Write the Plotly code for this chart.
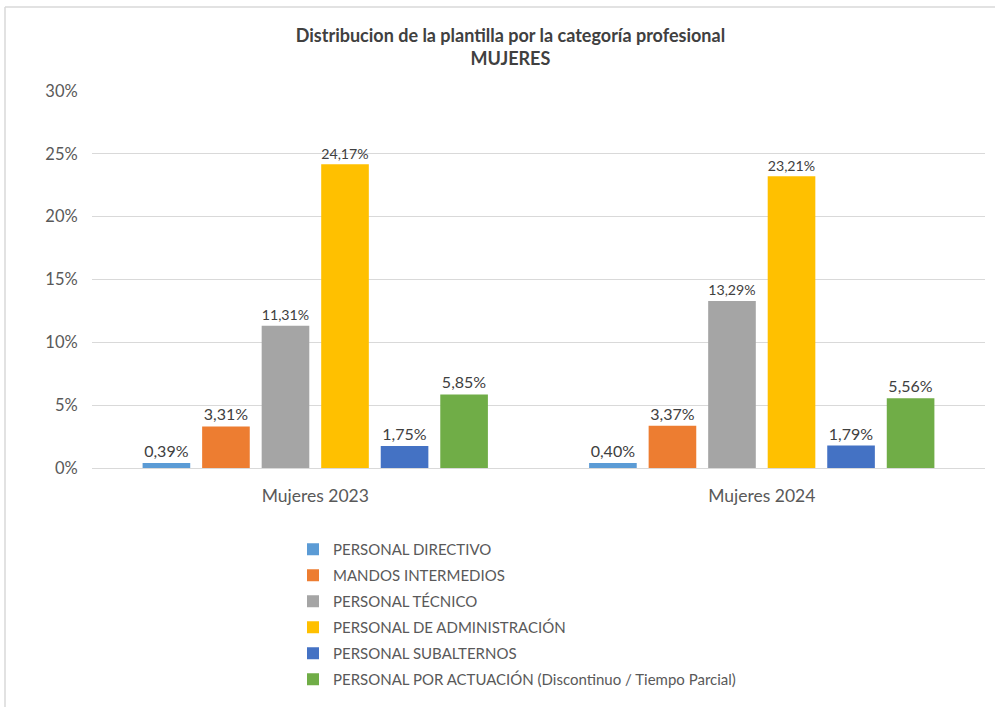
import plotly.graph_objects as go

categories = ["Mujeres 2023", "Mujeres 2024"]
series_names = [
    "PERSONAL DIRECTIVO",
    "MANDOS INTERMEDIOS",
    "PERSONAL TÉCNICO",
    "PERSONAL DE ADMINISTRACIÓN",
    "PERSONAL SUBALTERNOS",
    "PERSONAL POR ACTUACIÓN (Discontinuo / Tiempo Parcial)",
]
directivo = [0.0039, 0.0040]
mandos = [0.0331, 0.0337]
tecnico = [0.1131, 0.1329]
administracion = [0.2417, 0.2321]
subalternos = [0.0175, 0.0179]
actuacion = [0.0585, 0.0556]
colors = ["#5B9BD5", "#ED7D31", "#A5A5A5", "#FFC000", "#4472C4", "#70AD47"]

values = [directivo, mandos, tecnico, administracion, subalternos, actuacion]

fig = go.Figure()
for i, (name, vals) in enumerate(zip(series_names, values)):
    fig.add_trace(go.Bar(
        x=categories, y=vals, name=name,
        marker=dict(color=colors[i], line=dict(width=0)),
        text=[f"{v*100:.2f}%".replace(".", ",") for v in vals],
        textposition="outside",
        textfont=dict(size=16, color="#404040"),
        cliponaxis=False,
        legendgroup=f"g{i}",
    ))

W, H = 995, 707
L, R, T, B = 92, 10, 91, 239
pw, ph = W - L - R, H - T - B

def px(x):
    return (x - L) / pw

def py(y):
    return (H - B - y) / ph

fig.update_layout(
    width=W, height=H,
    margin=dict(l=L, r=R, t=T, b=B),
    paper_bgcolor="white", plot_bgcolor="white",
    font=dict(family="Lato, 'Open Sans', sans-serif", color="#595959", size=16),
    barmode="group", bargap=0.2, bargroupgap=0.2,
    title=dict(
        text="<b>Distribucion de la plantilla por la categoría profesional<br>MUJERES</b>",
        x=0.513, xanchor="center", xref="container",
        y=1 - 42 / H, yanchor="top", yref="container",
        font=dict(size=18, color="#404040"),
    ),
    showlegend=True,
    legend=dict(
        x=px(293), y=py(533), xanchor="left", yanchor="top",
        orientation="v", font=dict(size=15, color="#595959"),
        tracegroupgap=3.5, traceorder="grouped", itemwidth=30,
    ),
    xaxis=dict(
        showgrid=False, showline=False, ticks="outside", ticklen=12,
        tickcolor="rgba(0,0,0,0)", tickfont=dict(size=17.5, color="#595959"),
    ),
    yaxis=dict(
        range=[0, 0.30], dtick=0.05, tickformat=".0%",
        showgrid=True, gridcolor="#D9D9D9", gridwidth=1,
        zeroline=True, zerolinecolor="#D9D9D9", zerolinewidth=1,
        showline=False, ticks="outside", ticklen=10, tickcolor="rgba(0,0,0,0)",
        tickfont=dict(size=16.5, color="#595959"),
    ),
    shapes=[
        dict(type="line", xref="paper", yref="paper",
             x0=px(5), x1=px(5), y0=py(7), y1=py(707), line=dict(color="#D9D9D9", width=1.5)),
        dict(type="line", xref="paper", yref="paper",
             x0=px(5), x1=px(995), y0=py(7), y1=py(7), line=dict(color="#D9D9D9", width=1.5)),
    ],
)

fig.write_html("out.html", config={"displayModeBar": False},
               post_script="document.body.style.margin='0';")
